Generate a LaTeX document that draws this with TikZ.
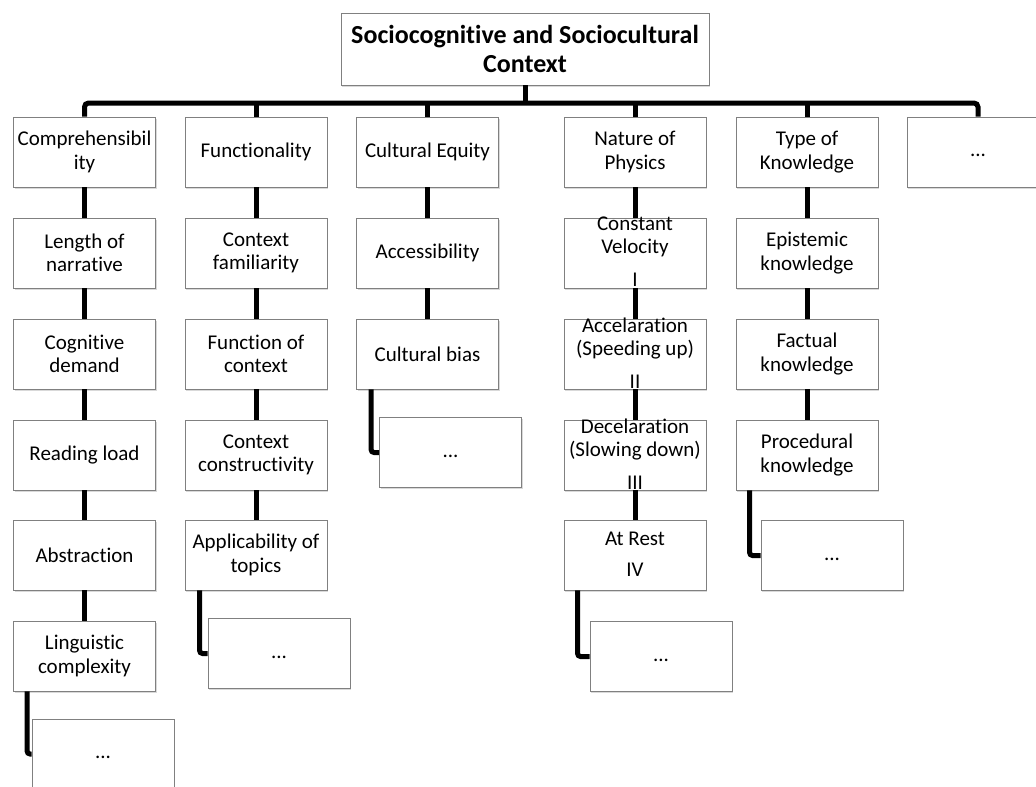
\documentclass[tikz,border=0pt]{standalone}
\usepackage{fontspec}
\setmainfont{Carlito}[Ligatures={NoCommon}]
\usetikzlibrary{shadows}
\newcommand\physlines[4]{\smash{\raisebox{#4}{\begin{tabular}[t]{@{}c@{}}#1\\#2\\[9pt]#3\end{tabular}}}}
\begin{document}
\begin{tikzpicture}[x=1pt,y=-1pt,
  box/.style={draw=black!50, line width=0.9pt, fill=white,
    minimum width=142pt, minimum height=70pt, inner xsep=0.5pt, inner ysep=2pt,
    align=center, font=\fontsize{21}{23.5}\selectfont,
    drop shadow={shadow xshift=1.2pt, shadow yshift=-1.8pt, opacity=0.3}},
  rootbox/.style={box, minimum width=368pt, minimum height=72pt,
    font=\fontsize{26}{29.5}\selectfont\bfseries},
  morebox/.style={box, execute at begin node=\strut},
  conn/.style={line width=5pt, draw=black},
  elbow/.style={conn, rounded corners=3pt}]
\useasboundingbox (0,0) rectangle (1036,787);

% root
\node[rootbox] (root) at (525,49) {Sociocognitive and Sociocultural\\Context};

% column a
\node[box] (a1) at (84.5,152) {Comprehensibil\\ity};
\node[box] (a2) at (84.5,253) {Length of\\narrative};
\node[box] (a3) at (84.5,354) {Cognitive\\demand};
\node[box] (a4) at (84.5,455) {Reading load};
\node[box] (a5) at (84.5,555) {Abstraction};
\node[box] (a6) at (84.5,656) {Linguistic\\complexity};
\node[morebox] (a7) at (103,754) {...};

% column b
\node[box] (b1) at (256,152) {Functionality};
\node[box] (b2) at (256,253) {Context\\familiarity};
\node[box] (b3) at (256,354) {Function of\\context};
\node[box] (b4) at (256,455) {Context\\constructivity};
\node[box] (b5) at (256,555) {Applicability of\\topics};
\node[morebox] (b6) at (279,653.5) {...};

% column c
\node[box] (c1) at (427.5,152) {Cultural Equity};
\node[box] (c2) at (427.5,253) {Accessibility};
\node[box] (c3) at (427.5,354) {Cultural bias};
\node[morebox] (c4) at (450.5,452.5) {...};

% column d
\node[box] (d1) at (635,152) {Nature of\\Physics};
\node[box] (d2) at (635,253) {\physlines{Constant}{Velocity}{I}{23pt}};
\node[box] (d3) at (635,354) {\physlines{Accelaration}{(Speeding up)}{II}{22pt}};
\node[box] (d4) at (635,455) {\physlines{Decelaration}{(Slowing down)}{III}{22pt}};
\node[box] (d5) at (635,555) {\smash{\raisebox{10pt}{\begin{tabular}[t]{@{}c@{}}At Rest\\[8pt]IV\end{tabular}}}};
\node[morebox] (d6) at (661,656.5) {...};

% column e
\node[box] (e1) at (807,152) {Type of\\Knowledge};
\node[box] (e2) at (807,253) {Epistemic\\knowledge};
\node[box] (e3) at (807,354) {Factual\\knowledge};
\node[box] (e4) at (807,455) {Procedural\\knowledge};
\node[morebox] (e5) at (832,555.5) {...};

% column f
\node[morebox] (f1) at (978,152) {...};

% bus
\coordinate (bus) at (525,103);
\draw[conn, rounded corners=4pt] (a1.north) |- (bus) -| (f1.north);
\draw[conn] (root.south) -- (root.south |- bus);
\foreach \n in {b1,c1,d1,e1} {\draw[conn] (\n.north) -- (\n.north |- bus);}

% column connectors
\draw[conn] (a1.south) -- (a2.north);
\draw[conn] (a2.south) -- (a3.north);
\draw[conn] (a3.south) -- (a4.north);
\draw[conn] (a4.south) -- (a5.north);
\draw[conn] (a5.south) -- (a6.north);
\draw[conn] (b1.south) -- (b2.north);
\draw[conn] (b2.south) -- (b3.north);
\draw[conn] (b3.south) -- (b4.north);
\draw[conn] (b4.south) -- (b5.north);
\draw[conn] (c1.south) -- (c2.north);
\draw[conn] (c2.south) -- (c3.north);
\draw[conn] (d1.south) -- (d2.north);
\draw[conn] (d2.south) -- (d3.north);
\draw[conn] (d3.south) -- (d4.north);
\draw[conn] (d4.south) -- (d5.north);
\draw[conn] (e1.south) -- (e2.north);
\draw[conn] (e2.south) -- (e3.north);
\draw[conn] (e3.south) -- (e4.north);

% elbows to continuation boxes
\draw[elbow] ([xshift=14pt]a6.south west) |- (a7.west);
\draw[elbow] ([xshift=15pt]b5.south west) |- (b6.west);
\draw[elbow] ([xshift=15pt]c3.south west) |- (c4.west);
\draw[elbow] ([xshift=14pt]d5.south west) |- (d6.west);
\draw[elbow] ([xshift=14pt]e4.south west) |- (e5.west);
\end{tikzpicture}
\end{document}
